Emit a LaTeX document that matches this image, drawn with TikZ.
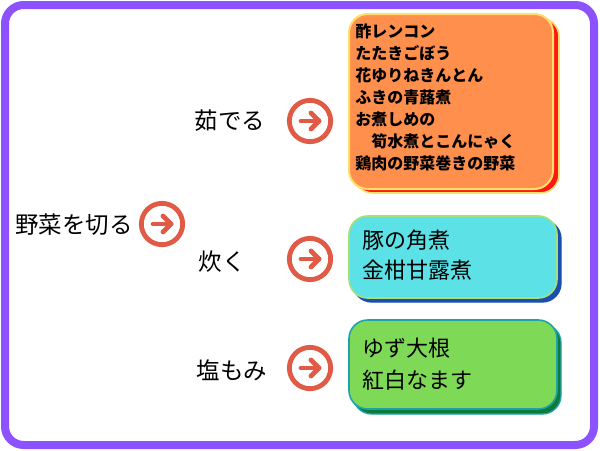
\documentclass[tikz,border=0pt]{standalone}
\usepackage{fontspec}
\setmainfont{Noto Sans CJK JP}
\newfontfamily\cjk{Noto Sans CJK JP}
\usetikzlibrary{calc}
\definecolor{framepurple}{HTML}{8C52FF}
\definecolor{arrowred}{HTML}{E05A46}
\definecolor{orfill}{HTML}{FF8F4C}
\definecolor{oredge}{HTML}{FFDE6A}
\definecolor{orshadow}{HTML}{FF1616}
\definecolor{cyfill}{HTML}{5CE1E6}
\definecolor{cyedge}{HTML}{A6E07A}
\definecolor{cyshadow}{HTML}{1A4FB0}
\definecolor{grfill}{HTML}{7ED957}
\definecolor{gredge}{HTML}{1FA3A8}
\definecolor{grshadow}{HTML}{0B7A3A}
\tikzset{
  label/.style={font=\cjk\fontsize{17.6}{20}\selectfont, inner sep=0pt},
  ring/.style={circle, draw=arrowred, line width=3.6pt, minimum size=31pt, inner sep=0pt},
  arrowline/.style={draw=arrowred, line width=3.6pt, line cap=round, line join=round},
  boxtext/.style={align=left, inner sep=0pt, anchor=west},
}
\begin{document}
\begin{tikzpicture}[x=0.75pt,y=-0.75pt]
\useasboundingbox (0,0) rectangle (600,450);
\fill[white] (0,0) rectangle (600,450);
% frame
\draw[framepurple, line width=6pt, rounded corners=14pt] (5,5) rectangle (594,445);

% orange box
\draw[oredge, fill=orshadow, line width=1.2pt, rounded corners=14pt] (354,18) rectangle (559,193);
\draw[oredge, fill=orfill, line width=1.5pt, rounded corners=14pt] (349,14) rectangle (553,189);
\node[boxtext, font=\cjk\bfseries\fontsize{12}{16.5}\selectfont] (otext) at (355,97)
  {酢レンコン\\たたきごぼう\\花ゆりねきんとん\\ふきの青蕗煮\\お煮しめの\\　筍水煮とこんにゃく\\鶏肉の野菜巻きの野菜};

% cyan box
\draw[cyshadow, fill=cyshadow, line width=1pt, rounded corners=14pt] (353,220) rectangle (561,302);
\draw[cyedge, fill=cyfill, line width=1.2pt, rounded corners=14pt] (349,216) rectangle (557,298);
\node[boxtext, font=\cjk\fontsize{16.5}{22.5}\selectfont] (ctext) at (362,255)
  {豚の角煮\\金柑甘露煮};

% green box
\draw[gredge, fill=grshadow, line width=1pt, rounded corners=14pt] (353,324) rectangle (561,414);
\draw[gredge, fill=grfill, line width=1.2pt, rounded corners=14pt] (349,320) rectangle (557,409);
\node[boxtext, font=\cjk\fontsize{16.5}{24}\selectfont] (gtext) at (362,364)
  {ゆず大根\\紅白なます};

% labels
\node[label] (cut) at (74,225) {野菜を切る};
\node[label] (boil) at (230,121) {茹でる};
\node[label] (cook) at (222,262) {炊く};
\node[label] (salt) at (232,370) {塩もみ};

% arrow icons
\foreach \n/\cx/\cy in {a0/162/224, a1/310/121, a2/310/259, a3/310/368}{
  \node[ring] (\n) at (\cx,\cy) {};
  \draw[arrowline] ($(\n.center)+(-9,0)$) -- ($(\n.center)+(9,0)$);
  \draw[arrowline] ($(\n.center)+(1,-8)$) -- ($(\n.center)+(9,0)$) -- ($(\n.center)+(1,8)$);
}
\end{tikzpicture}
\end{document}
